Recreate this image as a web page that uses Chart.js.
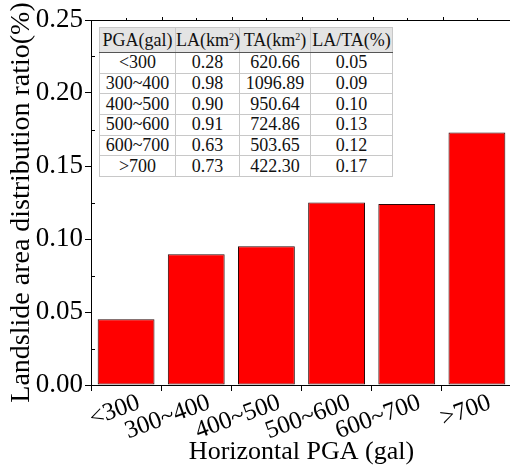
<!DOCTYPE html>
<html>
<head>
<meta charset="utf-8">
<script src="https://cdn.jsdelivr.net/npm/chart.js"></script>
<style>
  html, body { margin: 0; padding: 0; background: #fff; overflow: hidden; }
  #wrap { position: relative; width: 514px; height: 470px; }
  #chart { position: absolute; left: 0; top: 0; }
  #tbl {
    position: absolute; left: 99px; top: 27px; width: 293px; height: 150px;
    border-collapse: collapse; border: 1.5px solid #555; background: #fff;
    font-family: "Liberation Serif", "Times New Roman", serif; font-size: 18px; color: #111;
    table-layout: fixed;
  }
  #tbl td, #tbl th { border: 1px solid #c8c8c8; text-align: center; padding: 0; font-weight: normal; line-height: 19px; }
  #tbl th { background: #e4e4e4; height: 24px; border-bottom: 1.5px solid #555; }
  #tbl sup { font-size: 10px; vertical-align: 6px; line-height: 0; }
</style>
</head>
<body>
<div id="wrap">
  <canvas id="chart" width="514" height="470"></canvas>
  <table id="tbl"></table>
</div>
<script>
// categories and bar values (ratio %)
const categories = ['<300', '300~400', '400~500', '500~600', '600~700', '>700'];
const ratioValues = [0.045, 0.0895, 0.095, 0.125, 0.124, 0.173];
const yTicks = [0, 0.05, 0.10, 0.15, 0.20, 0.25];

// inset table columns
const tableHead = ['PGA(gal)', 'LA(km<sup>2</sup>)', 'TA(km<sup>2</sup>)', 'LA/TA(%)'];
const tableLA = ['0.28', '0.98', '0.90', '0.91', '0.63', '0.73'];
const tableTA = ['620.66', '1096.89', '950.64', '724.86', '503.65', '422.30'];
const tableRatio = ['0.05', '0.09', '0.10', '0.13', '0.12', '0.17'];

const serif = 'Liberation Serif';

// build the table
const tbl = document.getElementById('tbl');
let html = '<colgroup><col style="width:76px"><col style="width:64px"><col style="width:71px"><col style="width:82px"></colgroup>';
html += '<tr>' + tableHead.map(h => '<th>' + h + '</th>').join('') + '</tr>';
categories.forEach((c, i) => {
  const esc = c.replace('<', '&lt;').replace('>', '&gt;');
  html += '<tr><td>' + esc + '</td><td>' + tableLA[i] + '</td><td>' + tableTA[i] + '</td><td>' + tableRatio[i] + '</td></tr>';
});
tbl.innerHTML = html;

// minor ticks and top frame line
const framePlugin = {
  id: 'frame',
  afterDraw(chart) {
    const ctx = chart.ctx;
    const a = chart.chartArea;
    const y = chart.scales.y;
    const x = chart.scales.x;
    ctx.save();
    ctx.strokeStyle = '#000';
    ctx.lineWidth = 1;
    ctx.beginPath();
    // top line
    ctx.moveTo(a.left, a.top + 0.5);
    ctx.lineTo(a.right, a.top + 0.5);
    // minor y ticks, inward
    for (let i = 0; i < yTicks.length - 1; i++) {
      const py = Math.round(y.getPixelForValue((yTicks[i] + yTicks[i + 1]) / 2)) + 0.5;
      ctx.moveTo(a.left, py);
      ctx.lineTo(a.left + 4, py);
    }
    // small ticks on top line at category centres and boundaries
    const half = (x.getPixelForValue(1) - x.getPixelForValue(0)) / 2;
    for (let i = 0; i < categories.length; i++) {
      const cx = Math.round(x.getPixelForValue(i)) + 0.5;
      ctx.moveTo(cx, a.top);
      ctx.lineTo(cx, a.top - 2);
      ctx.moveTo(Math.round(cx + half) + 0.5, a.top);
      ctx.lineTo(Math.round(cx + half) + 0.5, a.top - 3);
    }
    ctx.stroke();
    ctx.restore();
  }
};

function draw() {
  new Chart(document.getElementById('chart'), {
    type: 'bar',
    data: {
      labels: categories,
      datasets: [{
        data: ratioValues,
        backgroundColor: '#ff0000',
        borderColor: '#2a0808',
        borderWidth: 1,
        borderSkipped: false,
        categoryPercentage: 1,
        barPercentage: 0.81
      }]
    },
    options: {
      responsive: false,
      animation: false,
      layout: { padding: { top: 20, right: 2, left: 0, bottom: 0 } },
      plugins: { legend: { display: false }, tooltip: { enabled: false } },
      scales: {
        x: {
          offset: true,
          border: { color: '#000', width: 1 },
          grid: { drawOnChartArea: false, drawTicks: true, tickLength: 6, tickColor: '#000', offset: true },
          ticks: {
            color: '#000', font: { family: serif, size: 25 },
            minRotation: 20, maxRotation: 20, padding: -3, autoSkip: false, labelOffset: 13
          },
          title: {
            display: true, text: 'Horizontal PGA (gal)', color: '#000',
            font: { family: serif, size: 26 }, padding: { top: 0, bottom: 2 }
          },
          afterFit(s) { s.height = 85; }
        },
        y: {
          min: 0, max: 0.25,
          border: { color: '#000', width: 1 },
          grid: { drawOnChartArea: false, drawTicks: true, tickLength: 6, tickColor: '#000' },
          ticks: {
            stepSize: 0.05, color: '#000', padding: 2,
            font: { family: serif, size: 27 },
            callback: v => v.toFixed(2)
          },
          title: {
            display: true, text: 'Landslide area distribution ratio(%)', color: '#000',
            font: { family: serif, size: 28 }, padding: { top: 5, bottom: 0 }
          },
          afterFit(s) { s.width = 91; }
        }
      }
    },
    plugins: [framePlugin]
  });
}

document.fonts.load('24px "Liberation Serif"').then(draw, draw);
</script>
</body>
</html>
